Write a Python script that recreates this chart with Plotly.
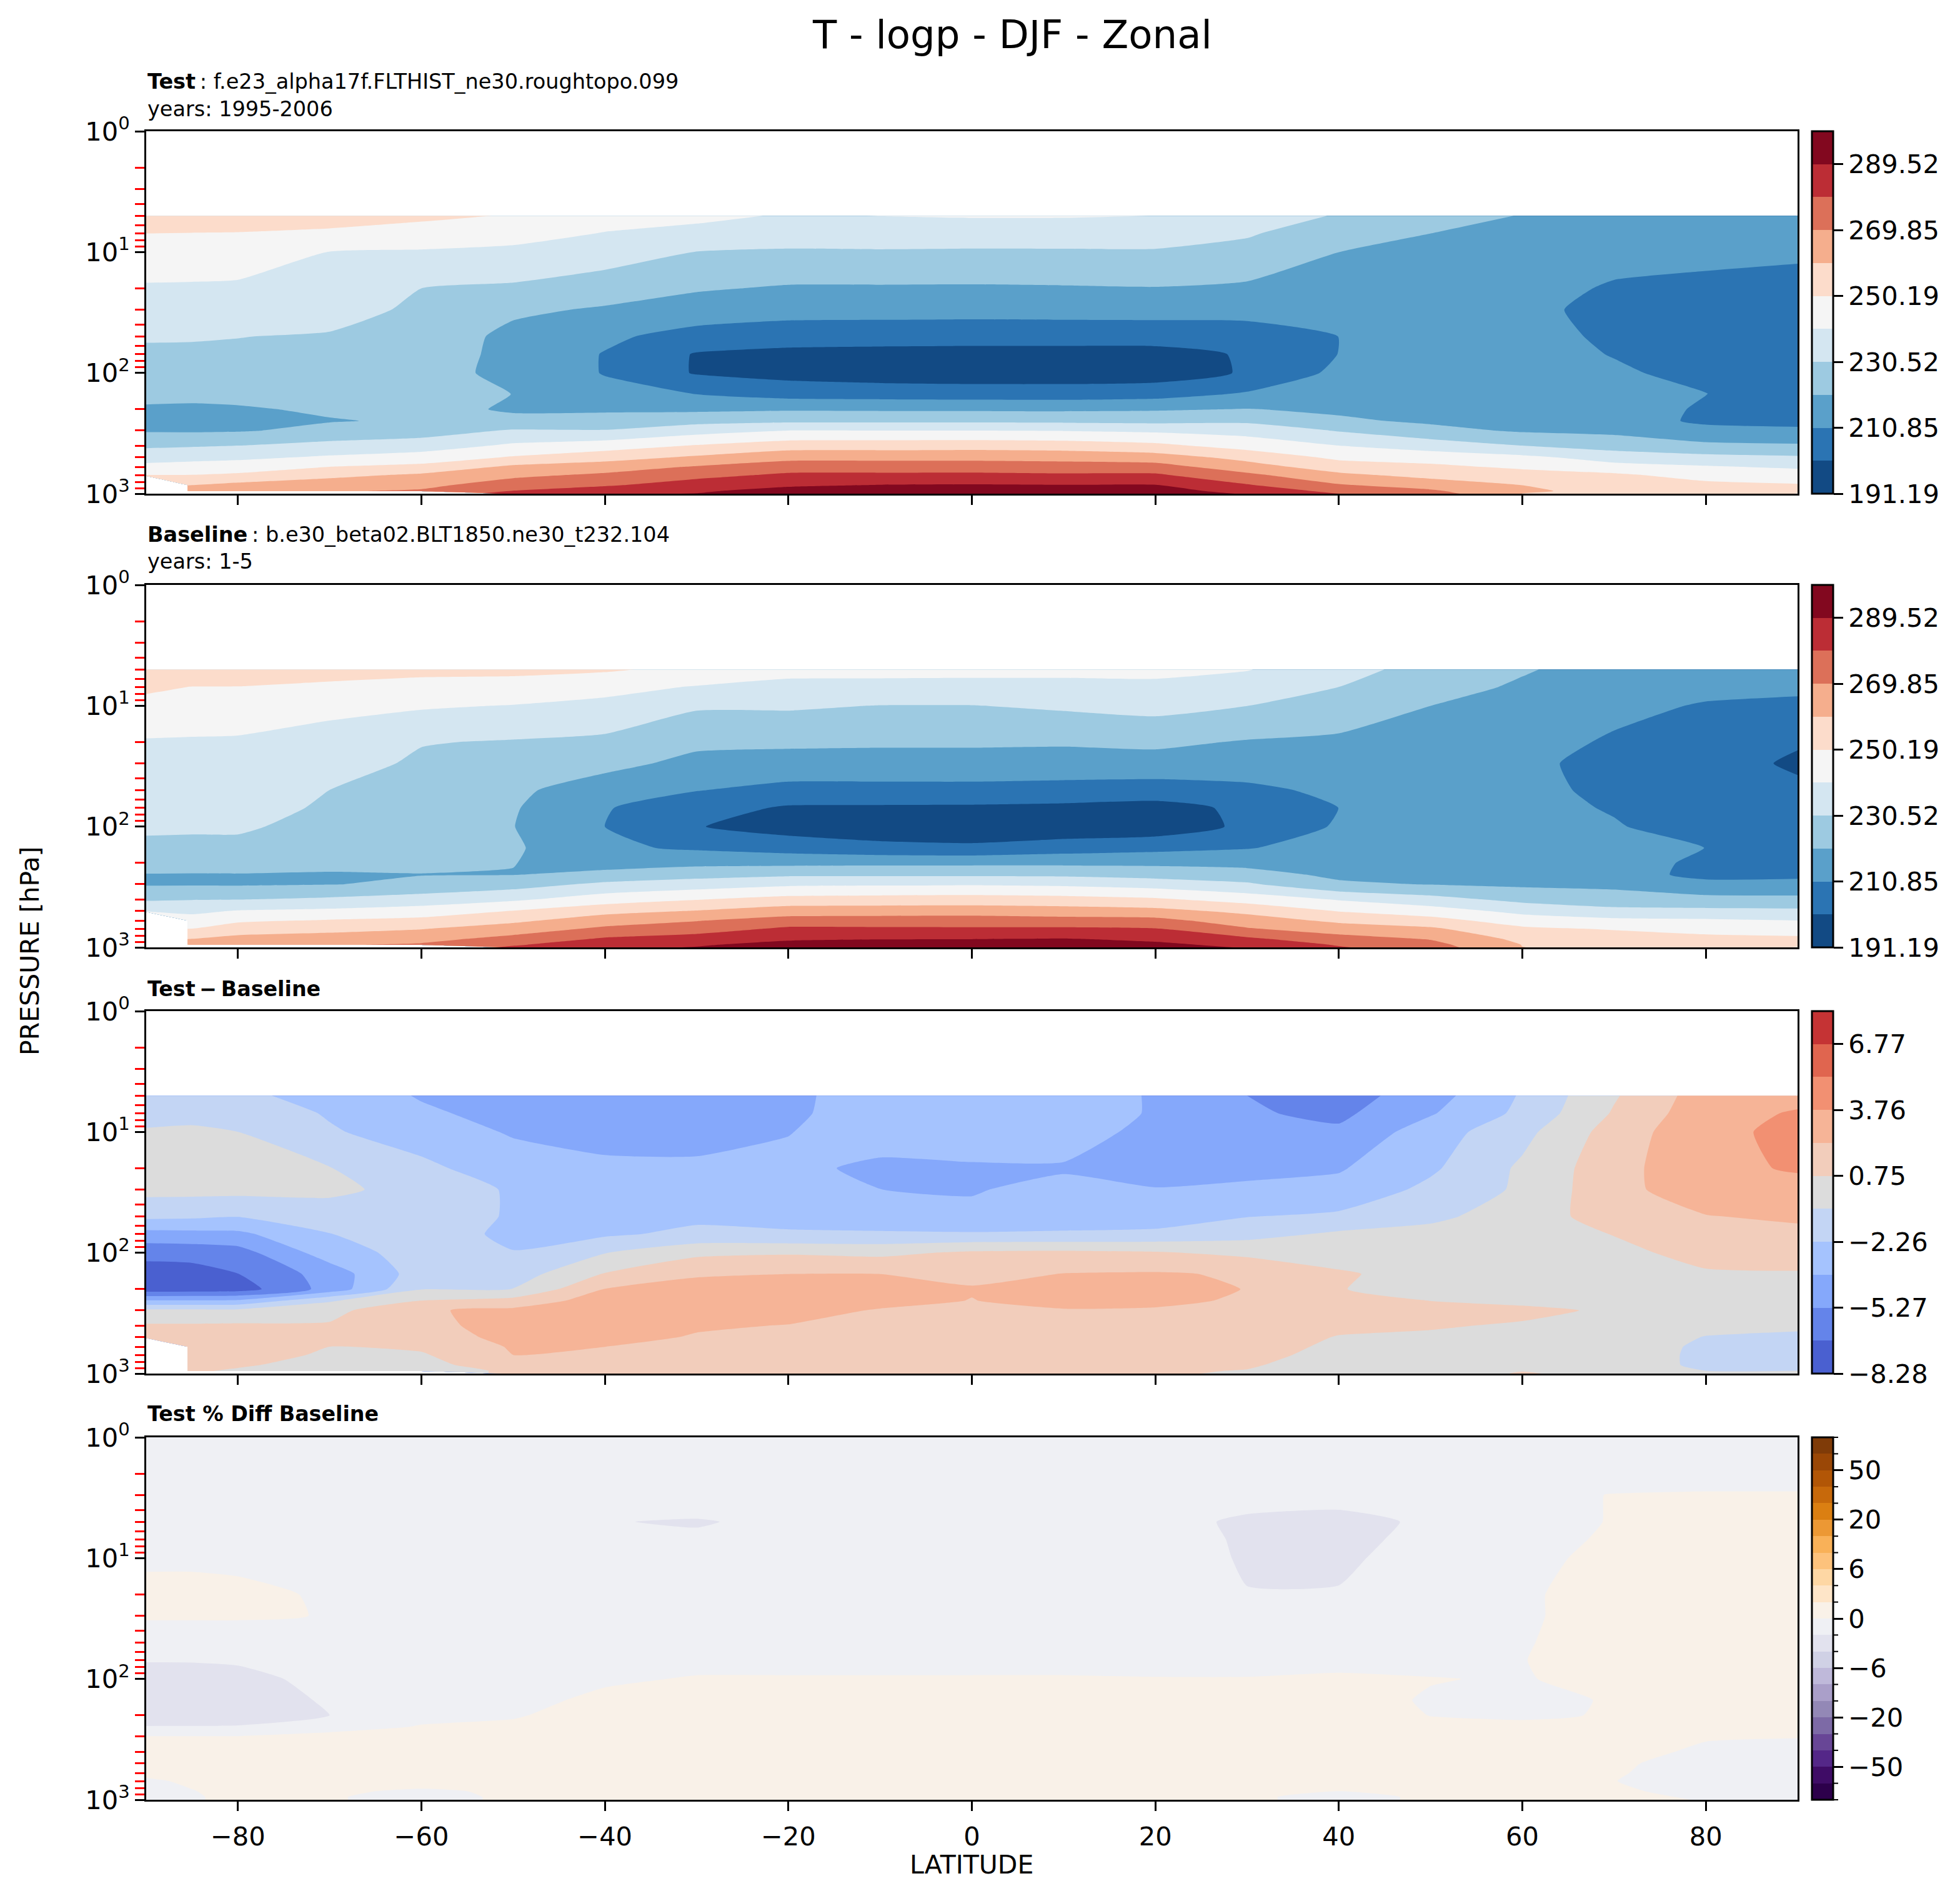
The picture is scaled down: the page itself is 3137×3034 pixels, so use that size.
# T - logp - DJF - Zonal, four stacked pressure/latitude panels
import numpy as np
import plotly.graph_objects as go

nan = float("nan")

W = 3137
H = 3034
PAGE_X = 8  # the page sits a few px in from the corner, pull everything back by that much
PAGE_Y = 6

lat = [-90, -85, -80, -70, -60, -50, -40, -30, -20, -10, 0, 10, 20, 30, 40, 50, 60, 70, 80, 90]
plev = [5, 7, 10, 20, 30, 50, 70, 100, 150, 200, 250, 300, 400, 500, 600, 700, 850, 950, 1000]
plev_pct = [1, 2, 3] + plev

# one row per latitude, one column per pressure level
t_test = [
    [255, 250.2, 246.7, 239.2, 236.6, 231.3, 229.1, 226.6, 222.4, 219.9, 219, 219.7, 228.9, 236.3, 243, 250.2, nan, nan, nan],
    [255.5, 250, 246.4, 239, 236.3, 231.2, 229, 226.5, 222.2, 219.7, 219, 219.5, 229.6, 237.5, 244, 250.3, 260, 265.5, nan],
    [255.8, 249.8, 246, 238.6, 236, 230.7, 229, 226.7, 222.6, 220, 219.2, 219.9, 230.5, 238.4, 245, 251.8, 262.8, 267, nan],
    [254, 248.7, 240.1, 237.5, 234.7, 229.6, 228.5, 226.9, 224.3, 221.6, 220.3, 222.9, 233.8, 241.6, 250.2, 257.2, 266, 268.9, nan],
    [252.5, 245.6, 239.5, 230.5, 228.5, 227, 226, 225, 224, 222.8, 221.5, 226, 235.4, 244.8, 252.8, 261.5, 267.3, 271, nan],
    [249.5, 243.5, 238.5, 229, 222.5, 218, 217.8, 217.7, 220.6, 219.9, 222.3, 231.5, 242, 251, 262, 267.5, 275, 280, 283],
    [244, 240, 235.3, 225.5, 219.6, 212.6, 210.4, 210.4, 213.5, 219, 225, 231, 245.3, 256.1, 265, 271.5, 278.5, 285, 288.5],
    [242.6, 237.6, 230.3, 221.6, 216.3, 207.3, 200.3, 200.2, 210.8, 218.7, 227.4, 236.4, 250.8, 261.4, 270.7, 276.6, 284.5, 288.3, 289.8],
    [239.5, 235, 229.5, 219.7, 214.6, 205.3, 198.5, 197.5, 207.2, 219.5, 228.7, 240.35, 255.2, 266.9, 275, 281.3, 288.1, 293, 295],
    [240.5, 235.8, 229.6, 219.7, 214.3, 205.2, 197.8, 196, 206.5, 219.3, 228.7, 240.3, 255.5, 267, 275, 281.5, 289.8, 294.5, 297],
    [241, 235.9, 229.3, 219.6, 214.1, 205.1, 197.5, 195.5, 206, 219.3, 228.6, 240.3, 255.8, 267, 275, 281.7, 290.2, 295.2, 298],
    [241, 235.7, 229.4, 219.9, 214.4, 205, 197.5, 195.5, 206, 219, 228.4, 239.9, 255, 266.4, 274.3, 281, 289.8, 294.7, 297.5],
    [240.3, 235.5, 229.5, 220.3, 214.4, 205.3, 197.5, 196, 207, 219.6, 227.9, 238.5, 252.5, 264.4, 274, 281, 290, 293.5, 296],
    [237.5, 231.5, 227.7, 219, 214.6, 205.8, 202, 202, 212, 221, 228.7, 236.7, 246, 257, 264, 272, 280.5, 286, 288.5],
    [229.5, 225, 220.7, 216, 214, 210.9, 211, 213.2, 216.5, 219, 222.2, 229.8, 240.35, 248, 255.3, 262, 270.8, 276.9, 279.7],
    [225.4, 220.7, 217.8, 214.5, 213, 213, 214, 215.5, 217, 218, 219.2, 223.5, 235.8, 245.5, 252.5, 257, 265.3, 271.5, 274.5],
    [220.2, 218.5, 217, 213, 212, 213, 214, 215, 216, 217, 218, 219.5, 230.5, 242.5, 248.3, 254.7, 260, 260.8, 259.9],
    [216, 214.5, 213, 210.2, 209.5, 209.8, 210.5, 212, 214.5, 216, 217, 218.5, 226, 236.5, 243.5, 252, 257.5, 258.5, 258],
    [215, 213.5, 212, 209.8, 208.5, 208, 208, 208.5, 211, 209.5, 208.5, 214.5, 222.5, 233.5, 241.3, 246, 253, 257, 257.5],
    [215.5, 213.5, 211.5, 209.5, 208, 207.5, 207, 207, 207.5, 208, 209.5, 211.7, 222, 231.7, 239, 244.8, 251, 252, 249.8],
]

t_base = [
    [257, 251.6, 247.9, 239.5, 238.9, 236.9, 235, 232.2, 228.3, 224, 220.4, 219.8, 229, 240.2, nan, nan, nan, nan, nan],
    [256.5, 250, 246.5, 239.3, 238.6, 236.7, 234.7, 232, 228, 223.8, 220.3, 219.8, 230, 238.2, 244.5, 250.2, 260, 266, nan],
    [255, 250, 246, 239.1, 238.3, 236.5, 234.7, 232, 228, 224.5, 220.3, 219.7, 230.2, 241, 248.7, 254.8, 263, 268.5, nan],
    [253, 248.9, 243, 236.5, 234.5, 230.5, 229, 227, 224.5, 222.5, 220.1, 220.4, 232, 242.4, 251, 256.7, 265, 269, nan],
    [253, 246.7, 241.5, 231, 229, 227, 226, 225, 223.5, 222.3, 220.5, 222.2, 235.2, 244.5, 253, 259.5, 266.8, 271, nan],
    [252.5, 246.5, 240, 229.8, 226, 222.3, 221.5, 220.9, 222, 220.9, 220.4, 226.4, 238.6, 250.6, 258, 264.6, 273, 278.8, 281],
    [251.5, 243, 238.2, 228.3, 223.2, 216.3, 211.5, 210.85, 212.5, 216.5, 223.6, 232.5, 245.3, 257, 265, 271.7, 280.9, 284.5, 287],
    [247.5, 239.8, 231.8, 222.5, 218.4, 211.2, 205, 201.5, 209.5, 218, 226.9, 235.4, 249.6, 260.5, 269.4, 275, 284, 288.4, 290],
    [243, 238, 231.8, 222.3, 217.2, 207.9, 199.9, 196.8, 206.7, 218, 228.9, 238.5, 253.4, 265, 273.8, 281.3, 288, 293, 295],
    [243, 237.8, 230.3, 222, 217, 208, 199.7, 194.5, 204, 218.3, 228.9, 239, 254, 265.2, 274.3, 281, 289, 294, 296.5],
    [243, 237.5, 230.3, 222, 217, 208, 199.5, 194, 203, 218.4, 228.9, 239.3, 254.4, 265.2, 274.7, 280.8, 289.2, 294.5, 297],
    [243, 237.5, 232, 221.8, 216.5, 207.5, 198.8, 194, 206, 218.5, 228.7, 238.4, 253.5, 264.4, 273.4, 281, 289.9, 294.5, 297],
    [242.5, 238.5, 233.8, 222.5, 217.2, 206.4, 197.5, 195, 208, 218.5, 226.7, 236, 251.5, 263, 272.9, 280, 287.5, 291.5, 294],
    [240.8, 236, 230.6, 220, 216.5, 208.6, 203, 203, 210.3, 217.6, 224.6, 231.9, 246, 257.6, 264.7, 270.6, 281.5, 287, 288.7],
    [234, 230.5, 226, 219, 216.5, 213, 210.9, 212, 215, 217, 218.5, 222.4, 239.5, 249.7, 258, 264.9, 273.6, 278.8, 280.5],
    [227, 224, 220.7, 216, 214.5, 214, 214.5, 215.5, 217, 218, 219, 220.3, 234, 245, 253.8, 261.5, 269.2, 272.8, 274.3],
    [221.5, 219.5, 217.5, 213.5, 212, 212.5, 213.5, 214.5, 215.5, 216.5, 217.5, 218.9, 227.7, 237.6, 245.4, 251.9, 257.4, 259.8, 260.1],
    [217, 214.8, 212.7, 210, 209.2, 209.5, 210.2, 211.5, 214, 215.7, 216.8, 218.3, 225, 233.3, 242.8, 249.3, 255, 257, 258],
    [214.5, 212.7, 210.3, 207.5, 205.3, 205, 206, 207, 210.8, 208.5, 207, 214.7, 223, 233.2, 241.8, 246.5, 253, 256, 255],
    [214, 212, 209.7, 202, 199.5, 203, 205.5, 206.5, 207.5, 208, 209, 213.3, 223.1, 232.5, 240.35, 246, 251.8, 251.5, 249.9],
]

t_diff = [
    [-2.1, -1.3, -0.6, -0.3, -0.3, -1.9, -4.3, -6.3, -7.5, -7.7, -3.6, -0.4, 0.9, 1.4, nan, nan, nan, nan, nan],
    [-2, -1.2, -0.5, -0.3, -0.3, -2, -4.2, -6.2, -7.4, -7.6, -3.6, -0.4, 0.9, 1.2, 1.4, 1.6, 1.2, 0.9, nan],
    [-2, -1.3, -0.75, -0.3, -0.3, -2.2, -4.1, -5.9, -6.8, -7.5, -3.5, -0.4, 0.95, 1.3, 1.5, 1.5, 0.9, 0.6, nan],
    [-2.7, -2.4, -2.1, -0.7, -0.6, -1.1, -2.3, -3, -4.6, -4.7, -0.9, 0.3, 0.9, 1.1, 0.75, 0.5, 0.3, 0.2, nan],
    [-3.9, -3.5, -3, -1.9, -1, -1.5, -1.5, -1.6, -1.5, -0.8, 0.8, 2.1, 1.7, 1.5, 1, 0.6, 0.1, -0.2, nan],
    [-4.5, -4.3, -3.9, -3.1, -2.5, -2.4, -2.6, -2.2, -1.5, -0.75, 1.3, 2.6, 3, 2.7, 2.4, 2.26, 1.9, 1.1, 0.9],
    [-5, -4.8, -4.4, -3.4, -3.1, -2.9, -2.5, -0.8, 0.85, 2.3, 3, 3, 3, 2.9, 2.26, 1.8, 1.3, 1.1, 1],
    [-5, -4.8, -4.5, -3.4, -3, -2.6, -1.9, 0.4, 2.1, 2.8, 3.1, 3.2, 2.5, 2.1, 1.8, 1.7, 1.6, 1.5, 1.4],
    [-4.1, -4, -3.8, -3.5, -3, -2.7, -2.1, 0.6, 2.26, 2.7, 2.9, 3, 2.2, 1.9, 1.7, 1.6, 1.5, 1.4, 1.2],
    [-3, -3.1, -3.2, -4, -3.76, -3, -2.1, 0.4, 2.26, 3, 2.9, 2.1, 1.8, 1.6, 1.4, 1.3, 1.2, 1.1, 0.9],
    [-3, -3, -3.1, -3.9, -3.85, -3.5, -2.1, 1, 1.8, 2.4, 2.2, 1.9, 1.7, 1.5, 1.4, 1.3, 1.2, 1.1, 0.9],
    [-3, -3, -3.1, -3.9, -3.4, -2.9, -2.1, 1.1, 2.3, 3, 3, 2.1, 1.8, 1.6, 1.5, 1.3, 1.1, 1, 0.8],
    [-3.9, -3.9, -4.2, -4.3, -3.7, -3.1, -1.9, 0.9, 2.4, 3, 2.6, 2.1, 1.7, 1.5, 1.4, 1.3, 1.1, 0.9, 0.9],
    [-5.27, -5.1, -4.5, -4, -3.6, -2.3, -1.3, 0.4, 2.1, 2.2, 2.05, 1.6, 1.4, 1.3, 1.3, 1.2, 0.9, 0.7, 0.6],
    [-6, -5.6, -5, -3.9, -3.3, -2, -0.5, 0.2, 0.9, 0.8, 1, 1.2, 1, 0.7, 0.5, 0.3, 0.1, 0, 0],
    [-4.4, -3.9, -3, -2.5, -1.9, -1, -0.4, 0, 0.3, 0.3, 0.75, 1.1, 0.85, 0.6, 0.5, 0.3, 0, -0.1, -0.1],
    [-2.1, -1.9, -1.2, -0.5, -0.5, -0.2, 0, 0.1, 0.2, 0.3, 0.5, 1, 0.65, 0.6, 0.5, 0.4, 0.2, 0.7, 0.9],
    [0.6, 0.9, 1.4, 1.7, 1.8, 1.6, 0.8, 0.4, 0.3, 0.2, 0.6, 0.6, 0, 0, 0, 0, -0.1, 0.1, 0.2],
    [3, 3.2, 3.4, 3.4, 3.1, 2.2, 1.9, 1.2, 0.6, 0.4, 0.3, 0.2, -0.4, -0.8, -1, -1.05, -1, -0.75, -0.3],
    [3.3, 3.9, 4.1, 3.9, 3.3, 2.5, 1.9, 1.6, 0.6, 0.5, 0.3, 0.2, -0.6, -0.9, -1, -1, -1, -0.75, -0.6],
]

pct_diff = [
    [-1, -1, -1, -0.8, -0.5, -0.3, 0.5, 0.1, -0.5, -1.9, -2.8, -3.2, -3, -1.9, 0.1, 0.6, 0.5, 0.3, -0.2, -0.3, -0.3, -0.3],
    [-1, -1, -1, -0.8, -0.5, -0.3, 0.5, 0.1, -0.5, -1.9, -2.7, -3.1, -2.9, -1.9, 0.1, 0.6, 0.5, 0.3, 0.2, -0.05, -0.2, -0.2],
    [-1, -1, -1, -0.8, -0.5, -0.4, 0.4, 0.1, -0.5, -1.8, -2.5, -2.9, -2.6, -1.9, 0.1, 0.6, 0.5, 0.4, 0.4, 0.4, 0.5, 0.5],
    [-1, -1, -1, -0.9, -0.7, -0.5, -0.2, -0.03, -0.5, -1, -1.5, -1.8, -2, -0.6, 0.5, 0.5, 0.5, 0.4, 0.3, 0.1, 0.05, 0.05],
    [-1, -1, -1, -1, -1, -0.8, -0.5, -0.4, -0.4, -0.5, -0.6, -0.6, -0.4, 0.1, 0.3, 0.5, 0.5, 0.4, 0.3, -0.1, -0.2, -0.2],
    [-1, -1, -1.1, -1.3, -1.3, -1.1, -0.7, -0.5, -0.5, -0.5, -0.5, -0.4, -0.1, 0.2, 0.5, 0.6, 0.6, 0.5, 0.4, 0.1, 0.1, 0.1],
    [-1, -1, -1.2, -1.95, -1.6, -1.3, -0.8, -0.6, -0.5, -0.4, -0.2, 0.3, 0.5, 0.6, 0.7, 0.7, 0.6, 0.5, 0.4, 0.3, 0.2, 0.2],
    [-1, -1, -1.2, -2.1, -1.8, -1.5, -1, -0.8, -0.6, -0.4, 0.1, 0.4, 0.6, 0.7, 0.8, 0.7, 0.6, 0.5, 0.4, 0.3, 0.2, 0.2],
    [-1, -1, -1.2, -1.7, -1.5, -1.3, -1, -0.8, -0.6, -0.4, 0.1, 0.4, 0.6, 0.7, 0.8, 0.7, 0.6, 0.5, 0.4, 0.3, 0.2, 0.2],
    [-1, -1, -1.1, -1.4, -1.3, -1.2, -1, -0.8, -0.6, -0.4, 0.1, 0.4, 0.6, 0.7, 0.8, 0.7, 0.6, 0.5, 0.4, 0.3, 0.2, 0.2],
    [-1, -1, -1.1, -1.4, -1.3, -1.2, -1, -0.8, -0.6, -0.4, 0.1, 0.4, 0.6, 0.7, 0.8, 0.7, 0.6, 0.5, 0.4, 0.3, 0.2, 0.2],
    [-1, -1, -1.1, -1.4, -1.3, -1.2, -1, -0.8, -0.6, -0.4, 0.1, 0.4, 0.6, 0.7, 0.8, 0.7, 0.6, 0.5, 0.4, 0.3, 0.2, 0.2],
    [-1, -1, -1.2, -1.6, -1.5, -1.5, -1.2, -0.9, -0.6, -0.4, 0.05, 0.4, 0.6, 0.7, 0.7, 0.6, 0.5, 0.4, 0.4, 0.3, 0.2, 0.2],
    [-1, -1, -1.5, -2.2, -2.15, -2.1, -1.97, -1.6, -0.7, -0.4, 0.05, 0.4, 0.6, 0.7, 0.7, 0.6, 0.5, 0.4, 0.3, 0.2, 0.1, 0.1],
    [-1, -1, -1.5, -2.4, -2.5, -2.3, -1.9, -1.5, -0.8, -0.4, 0.2, 0.4, 0.5, 0.6, 0.6, 0.5, 0.4, 0.2, 0.1, 0, -0.2, -0.2],
    [-1, -1, -1.2, -1.8, -1.5, -1.3, -1, -0.8, -0.6, -0.4, 0.05, -0.1, -0.02, 0.2, 0.4, 0.4, 0.3, 0.2, 0.2, 0.1, 0.1, 0.1],
    [-1, -1, -0.8, -0.7, -0.5, -0.4, -0.2, -0.2, -0.1, -0.03, -0.1, -0.5, -0.2, 0.3, 0.4, 0.4, 0.3, 0.2, 0.2, 0.2, 0.2, 0.2],
    [-1, -1.5, 0.1, 0.1, 0.2, 0.4, 0.6, 0.6, 0.6, 0.5, 0.5, 0.15, 0.1, 0.4, 0.5, 0.4, 0.2, 0.1, 0.02, 0.2, 0.4, 0.5],
    [-1, -1.5, 0.3, 0.6, 0.8, 0.9, 1, 0.9, 0.9, 0.7, 0.5, 0.3, 0.3, 0.3, 0.1, -0.2, -0.5, -0.5, -0.5, -0.4, -0.2, -0.1],
    [-1, -1.5, 0.3, 0.7, 0.9, 1, 1.2, 1, 0.9, 0.7, 0.5, 0.4, 0.4, 0.5, 0.05, -0.4, -0.5, -0.5, -0.5, -0.5, -0.4, -0.3],
]

# contour levels and band colours
t_start, t_end = 191.19, 299.35
diff_start, diff_end = -8.28, 8.28
pct_levels = [-100, -75, -50, -40, -30, -20, -15, -10, -6, -4, -2, 0, 2, 4, 6, 10, 15, 20, 30, 40, 50, 75, 100]

t_colors = ["#124a84", "#2b74b3", "#5aa0ca", "#9dcae1", "#d4e6f1", "#f5f5f5",
            "#fcdccb", "#f5ae8d", "#dc7059", "#bc2d35", "#82081f"]
diff_colors = ["#4a60d0", "#6484ea", "#85a8fb", "#a5c3fe", "#c3d5f4", "#dcdcdc",
               "#f2cdbb", "#f6b497", "#f29072", "#e0654f", "#c53334"]
pct_colors = ["#2d004b", "#3f0c66", "#542788", "#684696", "#7d6aa6", "#9388b6", "#aa9fc9", "#bfb9da",
              "#d0d1e5", "#e2e2ee", "#eff0f4", "#f9f1e8", "#fee5c8", "#fed7a4", "#fdc27c", "#f9b158",
              "#ec9834", "#db7f12", "#c7690b", "#b25606", "#9a4706", "#7f3b08"]

t_ticks = [191.19, 210.85, 230.52, 250.19, 269.85, 289.52]
diff_ticks = [-8.28, -5.27, -2.26, 0.75, 3.76, 6.77]
pct_ticks = [-50, -20, -6, 0, 6, 20, 50]

# pixel boxes of the panels
ax_left, ax_right = 234 - PAGE_X, 2877 - PAGE_X
cb_left, cb_width = 2900 - PAGE_X, 34
panel_tops = [208 - PAGE_Y, 934 - PAGE_Y, 1616 - PAGE_Y, 2298 - PAGE_Y]
panel_h = 580

FONT = "DejaVu Sans"
TICK_SIZE = 41.6


def band_scale(colors):
    # plotly samples at (k+1)/(n+1) for band k, keep a flat step around each sample
    c = [colors[0]] + colors + [colors[-1]]
    n = len(c) - 1
    scale = []
    for i, col in enumerate(c):
        scale.append([max(0, (i - 0.5) / n), col])
        scale.append([min(1, (i + 0.5) / n), col])
    return scale


def add_panel(fig, i, y, z, start, end, nbands, colors, tickvals, ticktext):
    top = panel_tops[i]
    size = (end - start) / nbands
    ymax = 1 - top / H
    ymin = 1 - (top + panel_h) / H
    name = "" if i == 0 else str(i + 1)
    fig.add_trace(go.Contour(
        x=lat, y=y, z=np.array(z, dtype=float).T,
        xaxis="x" + name, yaxis="y" + name,
        autocontour=False,
        contours=dict(start=start, end=end, size=size, coloring="fill", showlines=False),
        line=dict(width=0, smoothing=0.5),
        colorscale=band_scale(colors),
        zmin=start, zmax=end, zauto=False,
        hoverinfo="skip",
        colorbar=dict(
            x=cb_left / W, xanchor="left", xpad=0,
            y=(ymin + ymax) / 2, yanchor="middle", ypad=0,
            len=panel_h / H, lenmode="fraction",
            thickness=cb_width, thicknessmode="pixels",
            outlinecolor="black", outlinewidth=3,
            tickmode="array", tickvals=tickvals, ticktext=ticktext,
            ticks="outside", ticklen=15, tickwidth=3, tickcolor="black",
            tickfont=dict(family=FONT, size=TICK_SIZE, color="black"),
        ),
    ))
    fig.update_layout({
        "xaxis" + name: dict(
            domain=[ax_left / W, ax_right / W], anchor="y" + name,
            range=[-90, 90], autorange=False,
            tickmode="array", tickvals=[-80, -60, -40, -20, 0, 20, 40, 60, 80],
            ticktext=["−80", "−60", "−40", "−20", "0", "20", "40", "60", "80"],
            showticklabels=i == 3, ticklabelstandoff=5,
            ticks="outside", ticklen=15, tickwidth=3, tickcolor="black",
            tickfont=dict(family=FONT, size=TICK_SIZE, color="black"),
            showline=True, linecolor="black", linewidth=3, mirror=True,
            showgrid=False, zeroline=False,
        ),
        "yaxis" + name: dict(
            domain=[ymin, ymax], anchor="x" + name,
            type="log", range=[3, 0], autorange=False,
            tickmode="array", tickvals=[1, 10, 100, 1000],
            ticktext=["10<sup>0</sup>", "10<sup>1</sup>", "10<sup>2</sup>", "10<sup>3</sup>"],
            ticks="outside", ticklen=15, tickwidth=3, tickcolor="black",
            tickfont=dict(family=FONT, size=TICK_SIZE, color="black"),
            showline=True, linecolor="black", linewidth=3, mirror=True,
            showgrid=False, zeroline=False,
            minor=dict(
                ticks="outside", ticklen=15, tickwidth=3, tickcolor="red",
                tickmode="array",
                tickvals=[m * 10 ** d for d in range(3) for m in range(2, 10)],
                showgrid=False,
            ),
        ),
    })


fig = go.Figure()

add_panel(fig, 0, plev, t_test, t_start, t_end, 11, t_colors, t_ticks, [f"{v:.2f}" for v in t_ticks])
add_panel(fig, 1, plev, t_base, t_start, t_end, 11, t_colors, t_ticks, [f"{v:.2f}" for v in t_ticks])
add_panel(fig, 2, plev, t_diff, diff_start, diff_end, 11, diff_colors, diff_ticks,
          [f"{v:.2f}".replace("-", "−") for v in diff_ticks])

# % diff levels are not evenly spaced, so contour it in level-index space
idx = np.arange(len(pct_levels))
pct_z = np.interp(np.array(pct_diff), pct_levels, idx)
add_panel(fig, 3, plev_pct, pct_z, 0, len(pct_levels) - 1, len(pct_levels) - 1, pct_colors,
          [pct_levels.index(v) for v in pct_ticks], [str(v).replace("-", "−") for v in pct_ticks])

# short unlabelled ticks on the % diff colorbar
shapes = []
for k, lev in enumerate(pct_levels):
    if lev not in pct_ticks:
        shapes.append(dict(type="line", xref="paper", yref="y4 domain",
                           x0=(cb_left + cb_width) / W, x1=(cb_left + cb_width + 8) / W,
                           y0=k / (len(pct_levels) - 1), y1=k / (len(pct_levels) - 1),
                           line=dict(color="black", width=2)))


def text(x, y, s, size, **kw):
    return dict(xref="paper", yref="paper", x=(x - PAGE_X) / W, y=1 - (y - PAGE_Y) / H, text=s, showarrow=False,
                font=dict(family=FONT, size=size, color="black"), yanchor="middle", **kw)


annotations = [
    text(1620, 54, "T - logp - DJF - Zonal", 62.5, xanchor="center"),
    text(234, 128, "<b>Test</b>\u2009: f.e23_alpha17f.FLTHIST_ne30.roughtopo.099", 33.5, xanchor="left"),
    text(234, 172, "years: 1995-2006", 33.5, xanchor="left"),
    text(234, 854, "<b>Baseline</b>\u2009: b.e30_beta02.BLT1850.ne30_t232.104", 33.5, xanchor="left"),
    text(234, 896, "years: 1-5", 33.5, xanchor="left"),
    text(234, 1580, "<b>Test\u2009−\u2009Baseline</b>", 33.3, xanchor="left"),
    text(234, 2260, "<b>Test % Diff Baseline</b>", 33.3, xanchor="left"),
    text(1555, 2982, "LATITUDE", 41, xanchor="center"),
    text(48, 1520, "PRESSURE [hPa]", 41, xanchor="center", textangle=-90),
]

fig.update_layout(
    width=W, height=H,
    margin=dict(l=0, r=0, t=0, b=0, autoexpand=False),
    paper_bgcolor="white", plot_bgcolor="white",
    showlegend=False,
    shapes=shapes, annotations=annotations,
)

fig.write_html("out.html")
